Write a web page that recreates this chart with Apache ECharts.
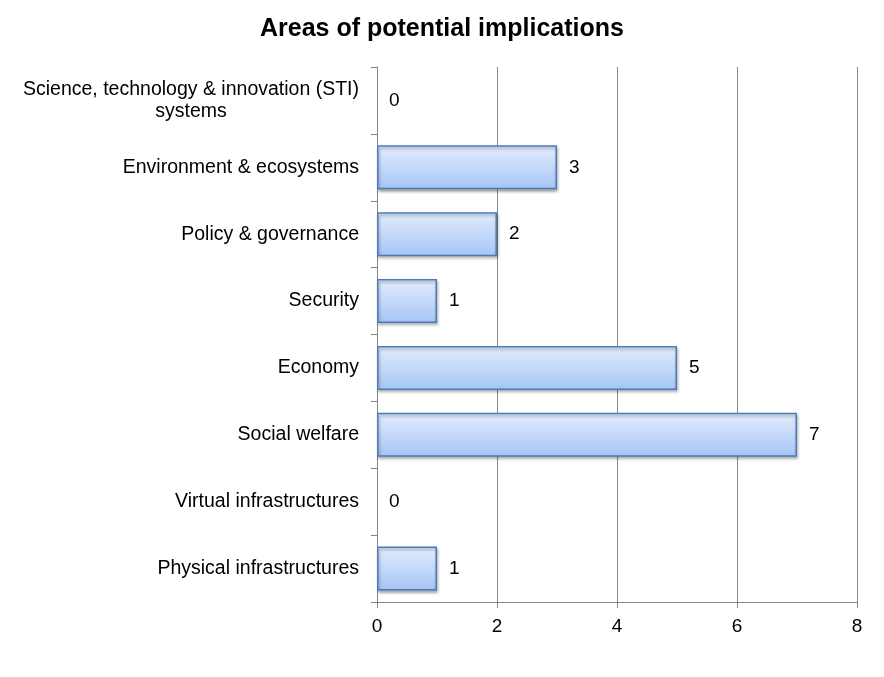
<!DOCTYPE html>
<html>
<head>
<meta charset="utf-8">
<script src="https://cdn.jsdelivr.net/npm/echarts@6/dist/echarts.min.js"></script>
<style>
html,body{margin:0;padding:0;background:#fff;}
#chart{width:884px;height:677px;}
</style>
</head>
<body>
<div id="chart"></div>
<script>
const title = 'Areas of potential implications';
const categories = [
  'Science, technology & innovation (STI) systems',
  'Environment & ecosystems',
  'Policy & governance',
  'Security',
  'Economy',
  'Social welfare',
  'Virtual infrastructures',
  'Physical infrastructures'
];
const values = [0, 3, 2, 1, 5, 7, 0, 1];
const xTicks = [0, 2, 4, 6, 8];

const chart = echarts.init(document.getElementById('chart'));
const font = '"Liberation Sans", Arial, sans-serif';
const barData = values.map(function (v) {
  return v === 0 ? { value: v, itemStyle: { borderWidth: 0, shadowBlur: 0, shadowOffsetX: 0, shadowOffsetY: 0, shadowColor: 'transparent' } } : v;
});
chart.setOption({
  backgroundColor: '#fff',
  animation: false,
  title: {
    text: title,
    left: 'center',
    top: 12,
    textStyle: { fontFamily: font, fontSize: 25, fontWeight: 'bold', color: '#000' }
  },
  grid: { left: 377, right: 27, top: 67, bottom: 75, containLabel: false },
  xAxis: {
    type: 'value',
    min: xTicks[0],
    max: xTicks[xTicks.length - 1],
    interval: 2,
    axisLine: { show: true, lineStyle: { color: '#868686', width: 1 } },
    axisTick: { show: true, length: 6, lineStyle: { color: '#868686' } },
    axisLabel: { fontFamily: font, fontSize: 19, color: '#000', margin: 15 },
    splitLine: { show: true, lineStyle: { color: '#8a8a8a', width: 1 } }
  },
  yAxis: {
    type: 'category',
    inverse: true,
    data: categories,
    axisLine: { show: true, lineStyle: { color: '#868686', width: 1 } },
    axisTick: { show: true, length: 6, lineStyle: { color: '#868686' }, alignWithLabel: false },
    axisLabel: {
      fontFamily: font, fontSize: 19.5, color: '#000', margin: 18, lineHeight: 22,
      formatter: function (v) {
        const idx = v.indexOf(' systems');
        if (idx > 0 && v.length > 30) {
          return '{c|' + v.slice(0, idx) + '}\n{c|' + v.slice(idx + 1) + '}';
        }
        return v;
      },
      rich: { c: { align: 'center', fontFamily: font, fontSize: 19.5, color: '#000', lineHeight: 22 } }
    }
  },
  series: [{
    type: 'bar',
    data: barData,
    barWidth: 44,
    itemStyle: {
      color: new echarts.graphic.LinearGradient(0, 0, 0, 1, [
        { offset: 0, color: '#e3edfd' },
        { offset: 1, color: '#a6c4f6' }
      ]),
      borderColor: '#4a7cbd',
      borderWidth: 1.5,
      shadowColor: 'rgba(0,0,0,0.35)',
      shadowBlur: 3,
      shadowOffsetX: 1,
      shadowOffsetY: 2
    },
    label: {
      show: true,
      position: 'right',
      distance: 12,
      fontFamily: font,
      fontSize: 19,
      color: '#000'
    }
  }]
});
</script>
</body>
</html>
